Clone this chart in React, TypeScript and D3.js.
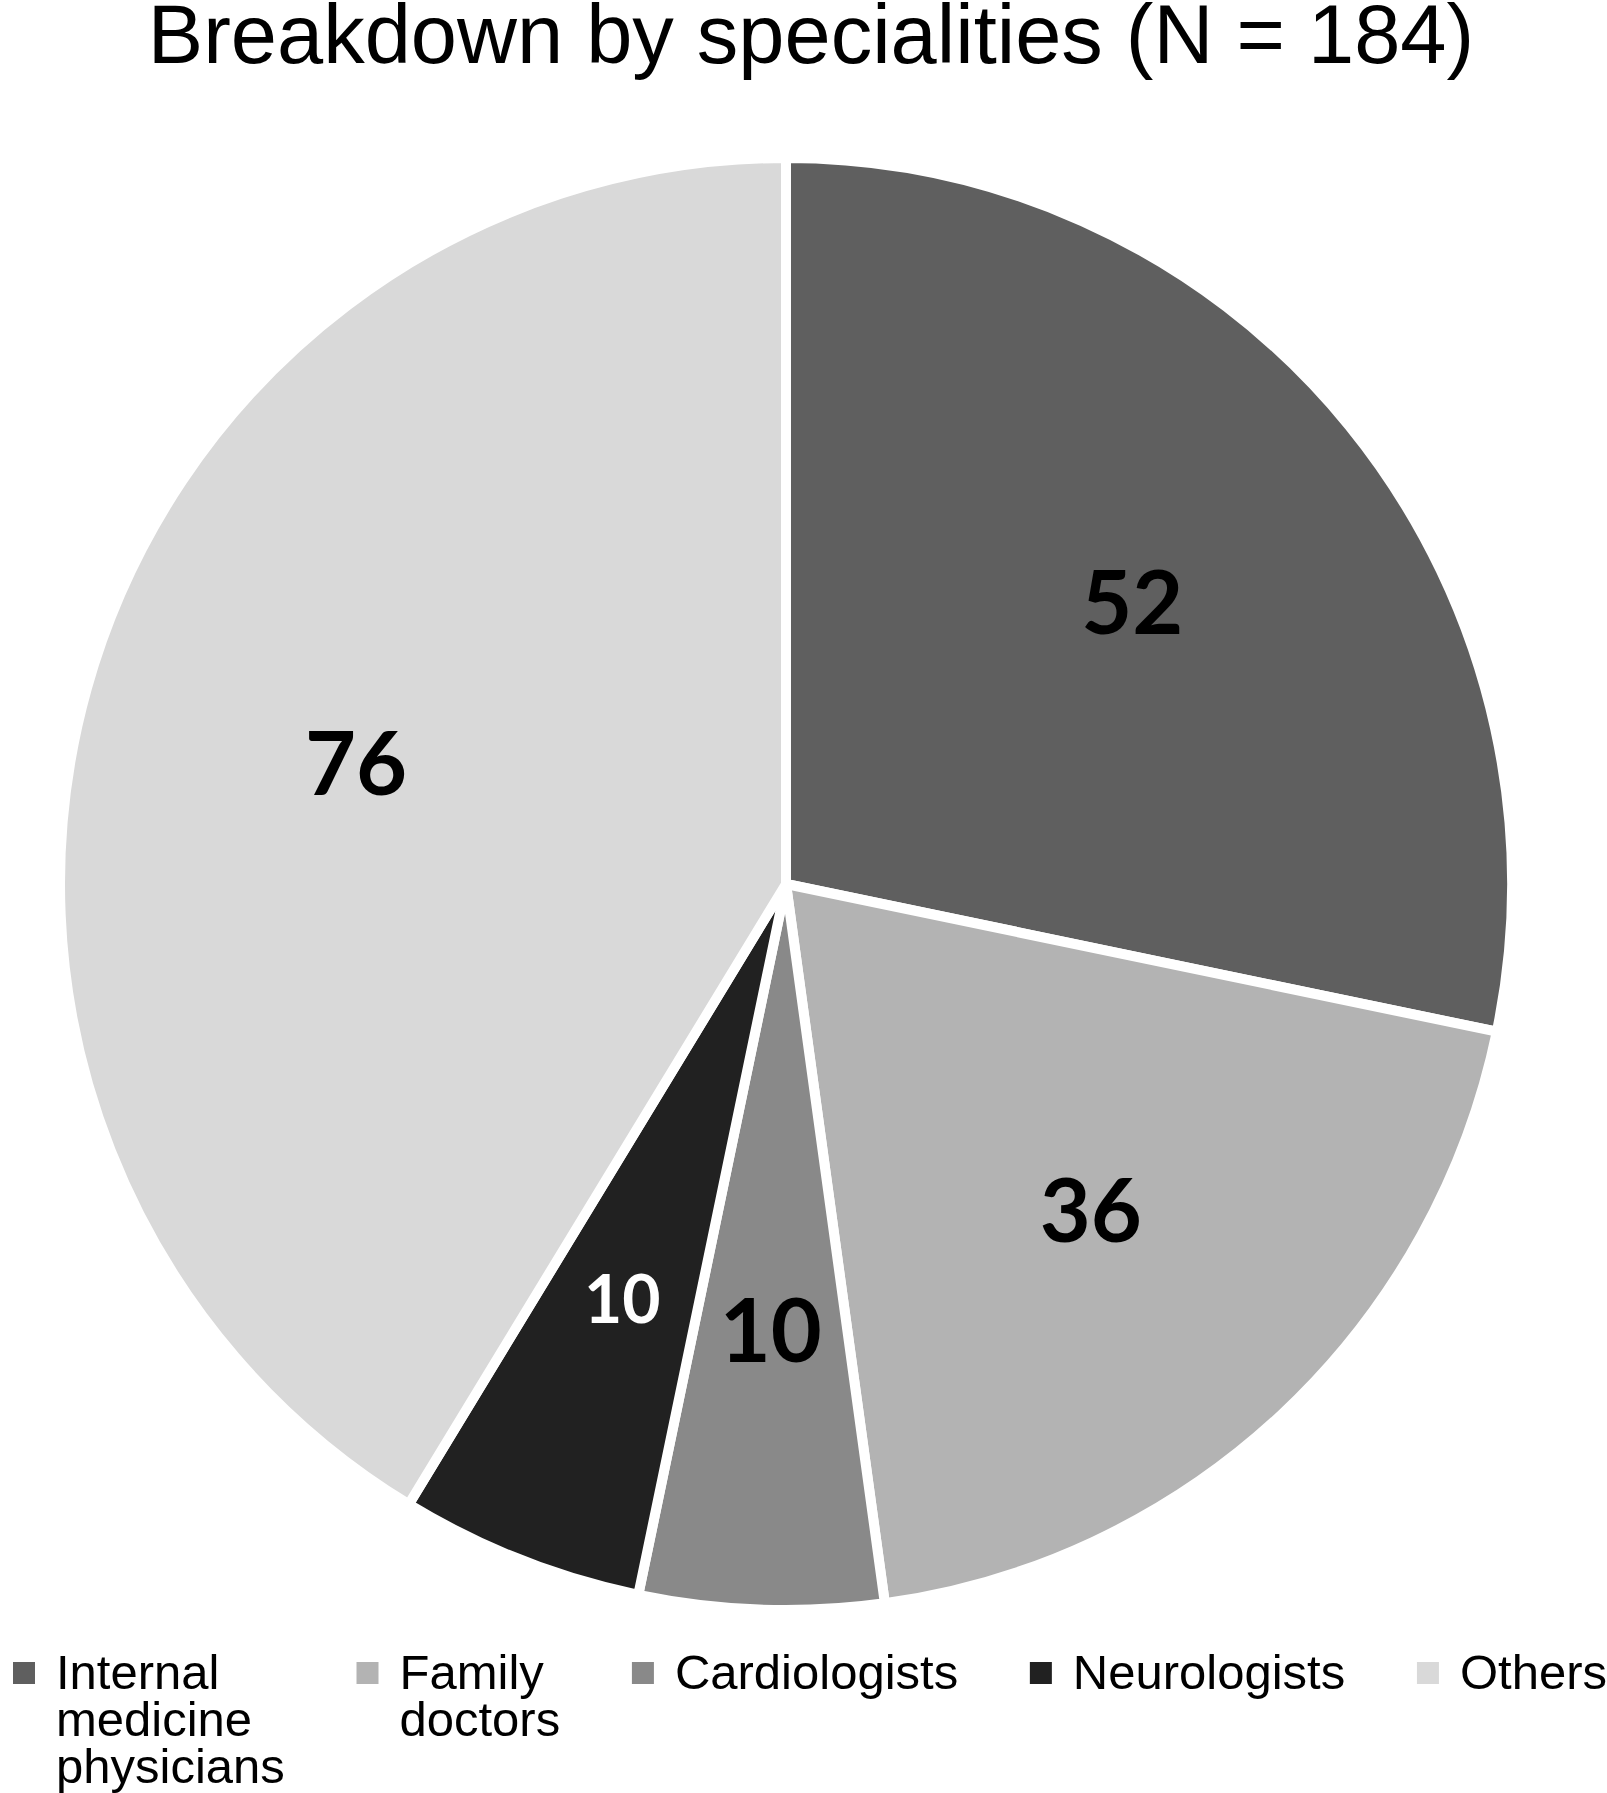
import React, { useRef, useEffect } from "react";
import * as d3 from "d3";

// data
const categories = ["Internal medicine physicians", "Family doctors", "Cardiologists", "Neurologists", "Others"];
const legendLines = [["Internal", "medicine", "physicians"], ["Family", "doctors"], ["Cardiologists"], ["Neurologists"], ["Others"]];
const counts = [52, 36, 10, 10, 76];
const colors = ["#5f5f5f", "#b3b3b3", "#898989", "#212121", "#d9d9d9"];
const title = "Breakdown by specialities (N = 184)";

const width = 1607;
const height = 1793;
const cx = 786;
const cy = 884;
const radius = 726;

function App() {
  const svgRef = useRef<SVGSVGElement>(null);

  useEffect(() => {
    const svg = d3.select(svgRef.current);
    svg.selectAll("*").remove();

    // title
    svg
      .append("text")
      .attr("x", 811)
      .attr("y", 63)
      .attr("text-anchor", "middle")
      .attr("font-family", "Liberation Sans, Arial, sans-serif")
      .attr("font-size", 83)
      .attr("fill", "#000")
      .text(title);

    // pie
    const pie = d3.pie<number>().sort(null).value((d) => d);
    const arcs = pie(counts);
    const arc = d3.arc<d3.PieArcDatum<number>>().innerRadius(0).outerRadius(radius);
    const labelArc = d3
      .arc<d3.PieArcDatum<number>>()
      .innerRadius(radius * 0.615)
      .outerRadius(radius * 0.615);

    const g = svg.append("g").attr("transform", `translate(${cx},${cy})`);

    g.selectAll(".slice")
      .data(arcs)
      .join("path")
      .attr("class", "slice")
      .attr("d", arc)
      .attr("fill", (d, i) => colors[i])
      .attr("stroke", "#fff")
      .attr("stroke-width", 10)
      .attr("stroke-linejoin", "round");

    //labels
    g.selectAll(".label")
      .data(arcs)
      .join("text")
      .attr("class", "label")
      .attr("transform", (d) => `translate(${labelArc.centroid(d)})`)
      .attr("text-anchor", "middle")
      .attr("dy", "0.36em")
      .attr("font-family", "Lato, Carlito, sans-serif")
      .attr("font-weight", 700)
      .attr("font-size", (d, i) => (d3.hsl(colors[i]).l < 0.3 ? 66 : 88))
      .attr("fill", (d, i) => (d3.hsl(colors[i]).l < 0.3 ? "#fff" : "#000"))
      .text((d) => d.data);

    // legend, items spread across the width
    const legend = svg.append("g").attr("font-family", "Liberation Sans, Arial, sans-serif").attr("font-size", 49);
    const baseline = 1689;
    const lineGap = 47;
    const sw = 22;
    const textOff = 43;
    const left = 13;
    const right = width;

    const items = categories.map((cat, i) => {
      const item = legend.append("g").attr("class", "legend-item");
      const rect = item
        .append("rect")
        .attr("y", baseline - 27)
        .attr("width", sw)
        .attr("height", sw)
        .attr("fill", colors[i]);
      const txt = item.append("text").attr("fill", "#000");
      legendLines[i].forEach((ln, j) => {
        txt.append("tspan").attr("x", 0).attr("y", baseline + j * lineGap).text(ln);
      });
      const w = (txt.node() as SVGTextElement).getBBox().width;
      return { rect, txt, w: textOff + w };
    });

    const total = d3.sum(items, (d) => d.w);
    const gap = (right - left - total) / (items.length - 1);
    let x = left;
    items.forEach((it) => {
      it.rect.attr("x", x);
      it.txt.selectAll("tspan").attr("x", x + textOff);
      x += it.w + gap;
    });
  }, []);

  return (
    <svg
      ref={svgRef}
      width={width}
      height={height}
      style={{ position: "absolute", left: 0, top: 0, background: "#fff" }}
    />
  );
}

export default App;
